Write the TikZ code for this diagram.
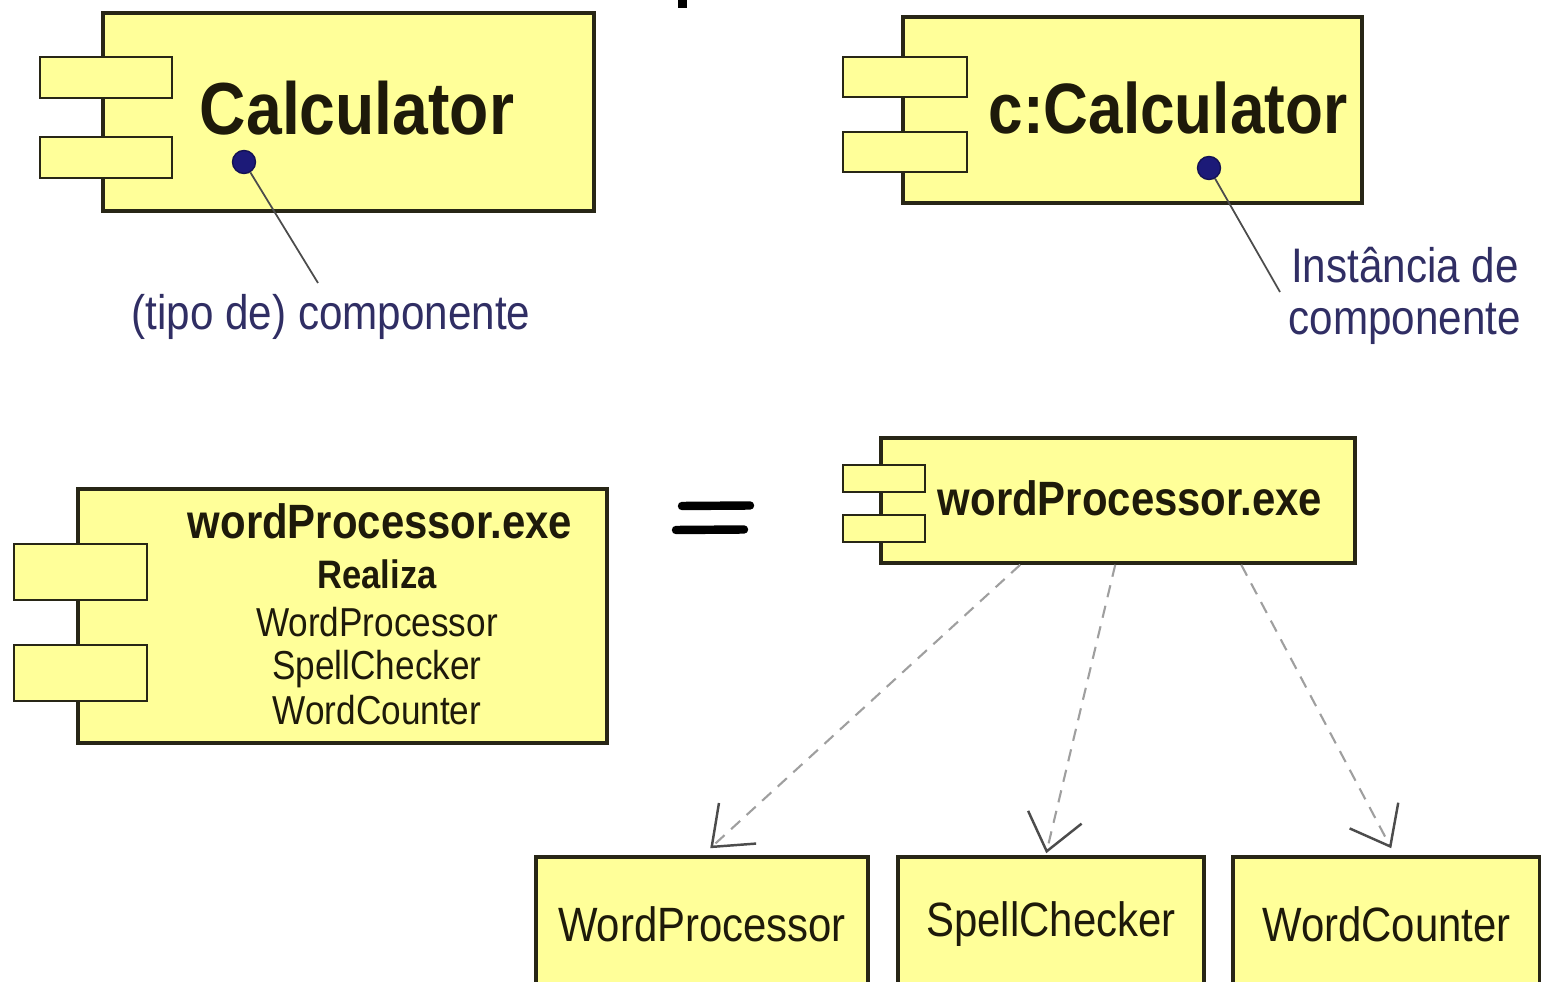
\documentclass[tikz,border=0pt]{standalone}
\usepackage{fontspec}
\setmainfont[FakeStretch=0.87]{Liberation Sans}
\usetikzlibrary{arrows.meta, positioning}

\definecolor{compfill}{RGB}{255,255,153}
\definecolor{compline}{RGB}{40,38,22}
\definecolor{comptext}{RGB}{30,26,10}
\definecolor{notenavy}{RGB}{48,46,100}
\definecolor{dotblue}{RGB}{28,26,120}

\begin{document}
\begin{tikzpicture}[
    % Node styles
    comp/.style={rectangle, draw=compline, fill=compfill, line width=1pt, inner sep=0pt},
    port/.style={rectangle, draw=compline, fill=compfill, line width=0.8pt, inner sep=0pt},
    bigname/.style={text=comptext, font=\fontsize{21}{25}\selectfont\bfseries, inner sep=0pt},
    exename/.style={text=comptext, font=\fontsize{13.7}{16}\selectfont\bfseries, inner sep=0pt},
    listitem/.style={text=comptext, font=\fontsize{11.5}{13}\selectfont, inner sep=0pt, anchor=base},
    classbox/.style={comp, minimum height=1.34cm, text=comptext, font=\fontsize{13.7}{16}\selectfont},
    note/.style={text=notenavy, font=\fontsize{13.8}{14.8}\selectfont, align=center, inner sep=0pt},
    dot/.style={circle, fill=dotblue, draw=dotblue!70!black, minimum size=0.23cm, inner sep=0pt},
    pin/.style={draw=gray!60!black, line width=0.5pt},
    realize/.style={draw=gray!75, line width=0.6pt, dash pattern=on 3.5pt off 2.5pt,
                    -{Straight Barb[length=3.5mm, width=5.5mm, line width=0.7pt, gray!60!black]}},
    equalbar/.style={draw=black, line width=2.4pt, line cap=round}
]

\clip (0,0) rectangle (15.41,9.81);

% Cut-off mark at the top
\fill[black] (6.78,9.73) rectangle (6.87,9.81);

% Top left: component type
\node[comp, minimum width=4.91cm, minimum height=1.98cm] (calc) at (3.485,8.69) {};
\node[port, minimum width=1.32cm, minimum height=0.41cm] (calcp1) at (1.06,9.035) {};
\node[port, minimum width=1.32cm, minimum height=0.41cm] (calcp2) at (1.06,8.235) {};
\node[bigname] (calcname) at (3.57,8.73) {Calculator};
\node[dot] (calcdot) at (2.44,8.19) {};
\coordinate (calcpin) at (3.18,6.98);
\node[note] (calcnote) at (3.31,6.64) {(tipo de) componente};
\draw[pin] (calcdot) -- (calcpin);

% Top right: component instance
\node[comp, minimum width=4.59cm, minimum height=1.86cm] (inst) at (11.325,8.71) {};
\node[port, minimum width=1.24cm, minimum height=0.40cm] (instp1) at (9.05,9.04) {};
\node[port, minimum width=1.24cm, minimum height=0.40cm] (instp2) at (9.05,8.29) {};
\node[bigname, font=\fontsize{20.3}{24}\selectfont\bfseries] (instname) at (11.68,8.73) {c:Calculator};
\node[dot] (instdot) at (12.09,8.13) {};
\coordinate (instpin) at (12.80,6.89);
\node[note, anchor=west] (instnote) at (12.88,6.85) {Instância de\\componente};
\draw[pin] (instdot) -- (instpin);

% Bottom left: component with realized classes listed inside
\node[comp, minimum width=5.29cm, minimum height=2.54cm] (wpbox) at (3.425,3.65) {};
\node[port, minimum width=1.33cm, minimum height=0.56cm] (wpboxp1) at (0.805,4.09) {};
\node[port, minimum width=1.33cm, minimum height=0.56cm] (wpboxp2) at (0.805,3.08) {};
\node[exename] (wpboxname) at (3.80,4.60) {wordProcessor.exe};
\node[listitem, font=\fontsize{11.3}{13}\selectfont\bfseries] (realiza) at (3.77,3.92) {Realiza};
\node[listitem] (listwp) at (3.77,3.45) {WordProcessor};
\node[listitem] (listsc) at (3.77,3.01) {SpellChecker};
\node[listitem] (listwc) at (3.77,2.56) {WordCounter};

% Equivalence sign
\draw[equalbar] (6.82,4.75) -- (7.50,4.755);
\draw[equalbar] (6.76,4.51) -- (7.44,4.515);

% Bottom right: component realizing classes
\node[comp, minimum width=4.74cm, minimum height=1.25cm] (wpexe) at (11.18,4.805) {};
\node[port, minimum width=0.82cm, minimum height=0.27cm] (wpexep1) at (8.84,5.025) {};
\node[port, minimum width=0.82cm, minimum height=0.27cm] (wpexep2) at (8.84,4.525) {};
\node[exename] (wpexename) at (11.30,4.83) {wordProcessor.exe};

% Classes
\node[classbox, minimum width=3.32cm] (wpclass) at (7.02,0.57) {WordProcessor};
\node[classbox, minimum width=3.06cm] (scclass) at (10.51,0.57) {\raisebox{0.05cm}{SpellChecker}};
\node[classbox, minimum width=3.07cm] (wcclass) at (13.865,0.57) {WordCounter};

% Realization arrows
\draw[realize] ([xshift=1.41cm]wpexe.south west) -- ([xshift=1.76cm, yshift=0.07cm]wpclass.north west);
\draw[realize] ([xshift=2.36cm]wpexe.south west) -- ([xshift=1.50cm, yshift=0.02cm]scclass.north west);
\draw[realize] ([xshift=3.62cm]wpexe.south west) -- ([xshift=1.60cm, yshift=0.07cm]wcclass.north west);

\end{tikzpicture}
\end{document}
